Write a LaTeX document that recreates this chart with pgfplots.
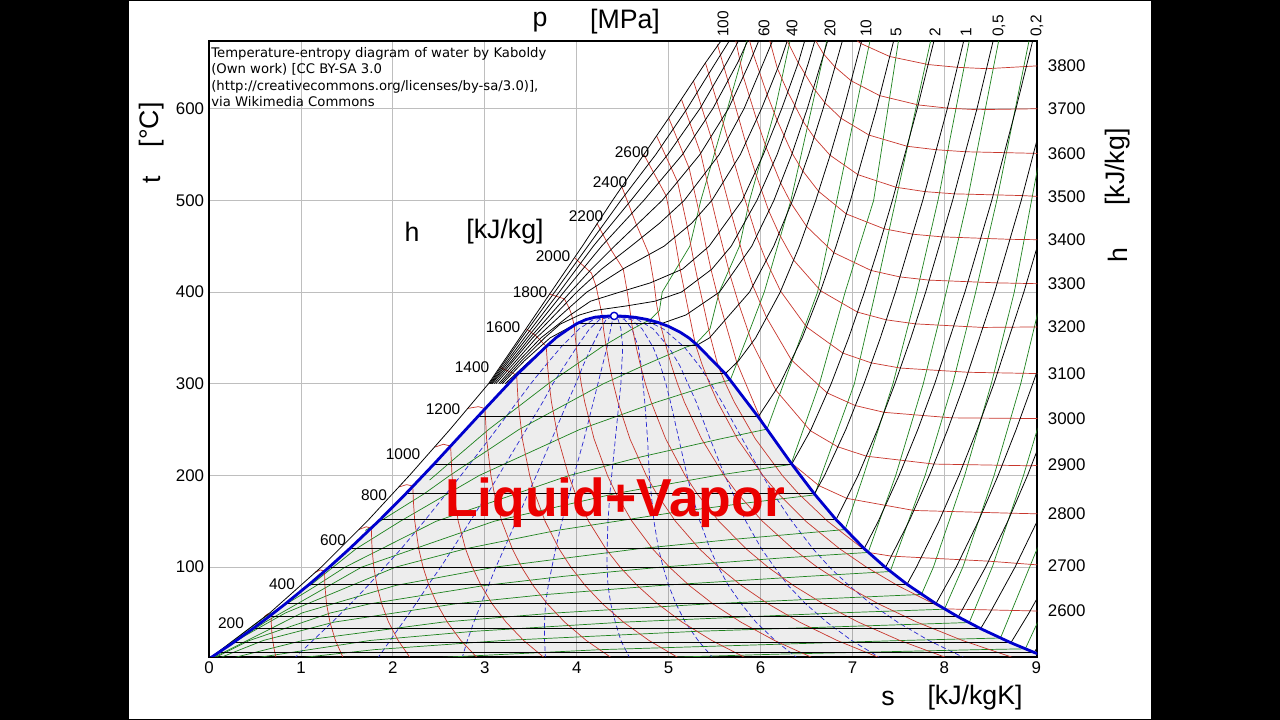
\documentclass[border=0pt]{standalone}
\usepackage{fontspec}
\setmainfont{Liberation Sans}
\newfontfamily\creditfont{DejaVu Sans}
\usepackage{pgfplots}
\pgfplotsset{compat=1.18}
\usepackage{pgfplotstable}
\definecolor{hred}{RGB}{200,55,45}
\definecolor{hgreen}{RGB}{30,130,30}
\definecolor{hblue}{RGB}{40,40,210}
\definecolor{domeblue}{RGB}{0,0,205}
\definecolor{gridgray}{RGB}{190,190,190}
\definecolor{lvred}{RGB}{235,0,0}

\pgfplotstableread{
s t
0 0.01
0.106 7.0
0.261 17.5
0.476 32.9
0.649 45.8
0.832 60.1
1.091 81.3
1.303 99.6
1.530 120.2
1.861 151.8
2.139 179.9
2.447 212.4
2.921 263.9
3.360 311.0
3.685 342.2
3.778 350.5
3.900 359.0
4.000 365.5
4.100 370.0
4.200 372.6
4.300 373.6
4.407 373.95
4.520 373.6
4.640 372.4
4.760 370.2
4.880 367.0
5.000 362.5
5.120 356.5
5.220 350.0
5.311 342.2
5.616 311.0
5.974 263.9
6.339 212.4
6.585 179.9
6.821 151.8
7.127 120.2
7.359 99.6
7.593 81.3
7.907 60.1
8.149 45.8
8.394 32.9
8.723 17.5
8.975 7.0
9.156 0.01
}\dome

\pgfplotsset{
  isobar/.style={black, line width=0.55pt},
  isenth/.style={hred, line width=0.5pt},
  isochor/.style={hgreen, line width=0.5pt},
  qual/.style={hblue, line width=0.5pt, dash pattern=on 3.5pt off 2pt},
}

\begin{document}
\begin{tikzpicture}[x=0.025cm,y=0.025cm]
\useasboundingbox (0,0) rectangle (1280,720);
\fill[black] (0,0) rectangle (1280,720);
\fill[white] (129,1) rectangle (1151,719);

\begin{axis}[
  at={(5.225cm,1.575cm)}, anchor=south west,
  scale only axis, width=20.7cm, height=15.4cm,
  xmin=0, xmax=9.01, ymin=2, ymax=674,
  xtick={0,1,...,9}, ytick={100,200,...,600},
  grid=major, major grid style={gridgray, line width=0.6pt},
  major tick length=0pt,
  axis line style={line width=1.5pt},
  tick label style={font=\fontsize{12}{14}\selectfont},
  /pgf/number format/assume math mode=true,
  every axis plot/.append style={line join=round},
]
% two-phase region
\addplot[fill=black, fill opacity=0.07, draw=none] table {\dome};

% quality lines
\addplot[qual] coordinates {(0.92,0.01)(1.13,20)(1.34,40)(1.54,60)(1.73,80)(1.91,100)(2.09,120)(2.34,150)(2.58,180)(2.74,200)(3.05,240)(3.35,280)(3.50,300)(3.66,320)(3.83,340)(4.03,360)(4.18,370)(4.407,373.95)};
\addplot[qual] coordinates {(1.83,0.01)(1.97,20)(2.11,40)(2.25,60)(2.38,80)(2.52,100)(2.65,120)(2.84,150)(3.03,180)(3.15,200)(3.39,240)(3.63,280)(3.74,300)(3.87,320)(4.00,340)(4.14,360)(4.25,370)(4.407,373.95)};
\addplot[qual] coordinates {(2.75,0.01)(2.81,20)(2.88,40)(2.96,60)(3.04,80)(3.12,100)(3.21,120)(3.34,150)(3.47,180)(3.56,200)(3.73,240)(3.90,280)(3.99,300)(4.07,320)(4.16,340)(4.26,360)(4.32,370)(4.407,373.95)};
\addplot[qual] coordinates {(3.66,0.01)(3.65,20)(3.65,40)(3.66,60)(3.69,80)(3.73,100)(3.77,120)(3.84,150)(3.92,180)(3.97,200)(4.08,240)(4.18,280)(4.23,300)(4.28,320)(4.33,340)(4.37,360)(4.39,370)(4.407,373.95)};
\addplot[qual] coordinates {(4.58,0.01)(4.48,20)(4.42,40)(4.37,60)(4.34,80)(4.33,100)(4.33,120)(4.34,150)(4.36,180)(4.38,200)(4.42,240)(4.46,280)(4.48,300)(4.49,320)(4.50,340)(4.48,360)(4.45,370)(4.407,373.95)};
\addplot[qual] coordinates {(5.49,0.01)(5.32,20)(5.18,40)(5.08,60)(5.00,80)(4.94,100)(4.89,120)(4.84,150)(4.81,180)(4.79,200)(4.77,240)(4.74,280)(4.72,300)(4.70,320)(4.67,340)(4.60,360)(4.52,370)(4.407,373.95)};
\addplot[qual] coordinates {(6.41,0.01)(6.16,20)(5.95,40)(5.79,60)(5.65,80)(5.54,100)(5.45,120)(5.34,150)(5.25,180)(5.20,200)(5.11,240)(5.02,280)(4.97,300)(4.91,320)(4.83,340)(4.71,360)(4.59,370)(4.407,373.95)};
\addplot[qual] coordinates {(7.32,0.01)(6.99,20)(6.72,40)(6.49,60)(6.30,80)(6.15,100)(6.01,120)(5.84,150)(5.70,180)(5.61,200)(5.45,240)(5.30,280)(5.21,300)(5.12,320)(5.00,340)(4.83,360)(4.66,370)(4.407,373.95)};
\addplot[qual] coordinates {(8.24,0.01)(7.83,20)(7.49,40)(7.20,60)(6.96,80)(6.75,100)(6.57,120)(6.34,150)(6.14,180)(6.02,200)(5.80,240)(5.58,280)(5.46,300)(5.33,320)(5.17,340)(4.94,360)(4.73,370)(4.407,373.95)};

% isochores
\addplot[isochor] coordinates {(4.44,0.01)(6.16,5)(8.38,10)(8.88,10.9)(9.07,52)};
\addplot[isochor] coordinates {(2.22,0.01)(4.26,10)(7.54,20)(8.61,22.7)(9.07,135)};
\addplot[isochor] coordinates {(0.89,0.01)(1.80,10)(3.20,20)(5.31,30)(8.27,39.6)(8.52,100)(8.86,200)(9.07,270)};
\addplot[isochor] coordinates {(0.44,0.01)(1.75,20)(2.88,30)(4.51,40)(6.83,50)(8.00,54.1)(8.20,100)(8.54,200)(8.83,300)(9.07,400)};
\addplot[isochor] coordinates {(0.22,0.01)(1.02,20)(2.54,40)(3.77,50)(5.45,60)(7.75,70.2)(7.88,100)(8.22,200)(8.51,300)(8.76,400)(9.07,565)};
\addplot[isochor] coordinates {(0.09,0.01)(0.59,20)(1.36,40)(2.68,60)(3.65,70)(4.91,80)(6.52,90)(7.41,95.2)(7.79,200)(8.09,300)(8.34,400)(8.57,500)(8.92,674)};
\addplot[isochor] coordinates {(0.04,0.01)(0.44,20)(1.32,50)(1.75,60)(3.00,80)(3.86,90)(4.92,100)(6.23,110)(7.17,116)(7.47,200)(7.77,300)(8.02,400)(8.25,500)(8.59,674)};
\addplot[isochor] coordinates {(0.02,0.01)(1.01,50)(2.03,80)(3.11,100)(4.67,120)(5.67,130)(6.92,141)(7.12,200)(7.44,300)(7.70,400)(7.93,500)(8.27,674)};
\addplot[isochor] coordinates {(0.0,0.01)(0.30,20)(0.83,50)(2.03,100)(2.79,120)(3.78,140)(5.08,160)(5.85,170)(6.59,178.8)(6.66,200)(7.02,300)(7.25,400)(7.47,500)(7.85,674)};
\addplot[isochor] coordinates {(0.0,0.01)(0.61,40)(1.66,100)(3.10,150)(4.41,180)(5.52,200)(6.33,212)(6.64,300)(6.92,400)(7.23,500)(7.50,674)};
\addplot[isochor] coordinates {(0.0,0.01)(0.60,45)(1.17,80)(1.48,100)(2.47,150)(3.92,200)(4.69,220)(5.57,240)(6.07,250.5)(6.25,300)(6.62,400)(6.83,500)(7.19,674)};
\addplot[isochor] coordinates {(1.10,80)(1.60,120)(2.08,150)(2.94,200)(4.03,250)(4.87,280)(5.50,300)(5.67,304)(5.85,350)(6.04,400)(6.33,500)(6.72,674)};
\addplot[isochor] coordinates {(1.70,140)(2.34,180)(2.62,200)(3.37,250)(4.29,300)(4.73,320)(5.19,340)(5.29,343)(5.45,360)(5.55,400)(5.77,450)(5.88,500)(6.16,600)(6.32,674)};
\addplot[isochor] coordinates {(2.40,195)(2.69,220)(3.04,250)(3.69,300)(4.27,340)(4.61,360)(4.80,370)(4.90,380)(4.93,400)(5.23,450)(5.35,500)(5.64,600)(5.85,674)};

% isenthalps
\addplot[isenth] coordinates {(0.732,0.01)(0.709,10)(0.693,20)(0.682,30)(0.676,40)(0.675,47.8)(0.64,49)(0.60,46)};
\addplot[isenth] coordinates {(1.464,0.01)(1.375,20)(1.315,40)(1.278,60)(1.260,80)(1.256,95.5)(1.21,97)(1.15,94)};
\addplot[isenth] coordinates {(2.196,0.01)(2.057,20)(1.953,40)(1.878,60)(1.826,80)(1.792,100)(1.773,120)(1.765,142.5)(1.71,144)(1.63,141)};
\addplot[isenth] coordinates {(2.929,0.01)(2.739,20)(2.592,40)(2.479,60)(2.392,80)(2.328,100)(2.281,120)(2.238,150)(2.224,170)(2.216,188.3)(2.15,190)(2.07,187.5)};
\addplot[isenth] coordinates {(3.661,0.01)(3.422,20)(3.231,40)(3.079,60)(2.959,80)(2.864,100)(2.790,120)(2.711,150)(2.662,180)(2.643,200)(2.628,232)(2.55,234)(2.46,231)};
\addplot[isenth] coordinates {(4.393,0.01)(4.104,20)(3.869,40)(3.679,60)(3.525,80)(3.400,100)(3.299,120)(3.184,150)(3.104,180)(3.066,200)(3.019,240)(3.002,272.9)(2.93,275)(2.81,273)};
\addplot[isenth] coordinates {(5.125,0.01)(4.786,20)(4.508,40)(4.280,60)(4.091,80)(3.936,100)(3.807,120)(3.656,150)(3.545,180)(3.488,200)(3.408,240)(3.363,280)(3.346,309.5)(3.25,314)(3.16,318)};
\addplot[isenth] coordinates {(5.857,0.01)(5.469,20)(5.147,40)(4.880,60)(4.658,80)(4.472,100)(4.316,120)(4.129,150)(3.986,180)(3.911,200)(3.798,240)(3.725,280)(3.700,300)(3.682,320)(3.668,340.7)(3.56,352)(3.45,360)};
\addplot[isenth] coordinates {(6.590,0.01)(6.151,20)(5.785,40)(5.480,60)(5.224,80)(5.008,100)(4.825,120)(4.601,150)(4.428,180)(4.334,200)(4.188,240)(4.087,280)(4.049,300)(4.019,320)(3.995,340)(3.975,360)(3.974,363)(3.944,375.3)(3.917,382.6)(3.866,392.5)(3.70,398)};
\addplot[isenth] coordinates {(7.322,0.01)(6.833,20)(6.424,40)(6.081,60)(5.790,80)(5.544,100)(5.334,120)(5.074,150)(4.869,180)(4.756,200)(4.578,240)(4.448,280)(4.398,300)(4.356,320)(4.321,340)(4.291,360)(4.281,370)(4.28,372.2)(4.268,379)(4.246,389)(4.211,406)(4.160,420.6)(3.98,437)};
\addplot[isenth] coordinates {(8.054,0.01)(7.515,20)(7.063,40)(6.681,60)(6.357,80)(6.080,100)(5.842,120)(5.547,150)(5.310,180)(5.179,200)(4.967,240)(4.810,280)(4.747,300)(4.693,320)(4.647,340)(4.607,360)(4.592,370)(4.59,372.1)(4.575,383)(4.548,401)(4.506,425)(4.374,446)(4.22,475)};
\addplot[isenth] coordinates {(8.786,0.01)(8.197,20)(7.701,40)(7.281,60)(6.923,80)(6.616,100)(6.351,120)(6.020,150)(5.752,180)(5.602,200)(5.357,240)(5.171,280)(5.096,300)(5.030,320)(4.974,340)(4.923,360)(4.91,365.5)(4.87,386)(4.84,410)(4.787,441)(4.643,475)(4.49,515)};
\addplot[isenth] coordinates {(9.07,52)(8.197,54)(7.99,54.5)(7.882,60)(7.489,80)(7.152,100)(6.860,120)(6.492,150)(6.193,180)(6.025,200)(5.747,240)(5.533,280)(5.445,300)(5.367,320)(5.300,340)(5.29,343)(5.221,377)(5.126,424)(5.063,461)(4.972,505)(4.73,550)};
\addplot[isenth] coordinates {(9.07,102)(8.48,106.5)(7.422,112)(7.17,116)(7.114,120)(6.729,150)(6.414,180)(6.236,200)(5.942,240)(5.714,280)(5.619,300)(5.536,320)(5.454,351)(5.373,388)(5.317,413)(5.271,435)(5.197,474)(5.097,520)(4.87,570)};
\addplot[isenth] coordinates {(9.07,158)(8.727,158.8)(7.667,161.8)(6.937,175)(6.634,188.9)(6.342,213)(6.137,240)(6.05,253)(5.984,265.5)(5.742,323)(5.609,369)(5.527,398)(5.462,424)(5.412,447)(5.331,487)(5.223,535)(5.0,590)};
\addplot[isenth] coordinates {(9.07,211.6)(8.945,210.5)(7.885,212.4)(7.150,221)(6.840,231.2)(6.541,248.8)(6.166,293)(5.907,344.7)(5.764,386.6)(5.672,417)(5.549,465)(5.466,499.6)(5.350,550.6)(5.14,610)};
\addplot[isenth] coordinates {(9.07,262)(8.081,262.8)(7.344,268.8)(7.030,276.2)(6.724,290)(6.335,325.9)(6.063,372.5)(5.917,406.7)(5.816,437.4)(5.685,484.3)(5.591,519.7)(5.459,569.4)(5.27,630)};
\addplot[isenth] coordinates {(9.07,311)(8.258,312.5)(7.521,317.1)(7.206,322.7)(6.895,333.4)(6.499,362)(6.218,400.9)(6.060,434.1)(5.956,460.7)(5.818,504.8)(5.717,540)(5.580,589)(5.40,650)};
\addplot[isenth] coordinates {(9.07,362)(8.419,361.4)(7.684,365.3)(7.367,369.7)(7.054,378.1)(6.653,401.4)(6.359,434.9)(6.200,463.8)(6.089,488.5)(5.942,530.6)(5.838,562.9)(5.700,611.5)(5.53,670)};
\addplot[isenth] coordinates {(9.07,409)(8.574,410)(7.834,413)(7.516,416.5)(7.203,423.5)(6.797,442.9)(6.499,471.7)(6.334,496.5)(6.218,519)(6.063,557.3)(5.956,588.3)(5.812,635)(5.73,674)};
\addplot[isenth] coordinates {(9.07,457)(8.713,457.5)(7.972,460.2)(7.654,463.1)(7.343,469)(6.932,485.2)(6.631,509.8)(6.460,532)(6.343,551.3)(6.181,587)(6.071,615.4)(5.921,659.5)(5.88,674)};
\addplot[isenth] coordinates {(9.07,504)(8.850,505.2)(8.108,507.1)(7.790,509.5)(7.472,514.3)(7.058,528.1)(6.756,549.2)(6.582,568.7)(6.461,586.3)(6.296,618.2)(6.182,644)(6.10,674)};
\addplot[isenth] coordinates {(9.07,551)(8.972,551.3)(8.230,553)(7.912,555.2)(7.593,559)(7.179,571.2)(6.874,589.6)(6.698,606.6)(6.574,622.7)(6.407,650.5)(6.29,674)};
\addplot[isenth] coordinates {(9.07,600)(8.352,598.9)(8.033,600.6)(7.714,604.1)(7.296,614.2)(6.985,630.4)(6.807,645.7)(6.683,659.9)(6.60,674)};
\addplot[isenth] coordinates {(9.07,647)(8.460,643.6)(8.141,645.1)(7.824,648.1)(7.404,656.9)(7.092,671)(7.05,674)};

% isobars: two-phase parts
\addplot[isobar] coordinates {(4.000,365.8)(4.927,365.8)};
\addplot[isobar] coordinates {(3.685,342.2)(5.311,342.2)};
\addplot[isobar] coordinates {(3.360,311.0)(5.616,311.0)};
\addplot[isobar] coordinates {(2.921,263.9)(5.974,263.9)};
\addplot[isobar] coordinates {(2.447,212.4)(6.339,212.4)};
\addplot[isobar] coordinates {(2.139,179.9)(6.585,179.9)};
\addplot[isobar] coordinates {(1.861,151.8)(6.821,151.8)};
\addplot[isobar] coordinates {(1.530,120.2)(7.127,120.2)};
\addplot[isobar] coordinates {(1.303,99.6)(7.359,99.6)};
\addplot[isobar] coordinates {(1.091,81.3)(7.593,81.3)};
\addplot[isobar] coordinates {(0.832,60.1)(7.907,60.1)};
\addplot[isobar] coordinates {(0.649,45.8)(8.149,45.8)};
\addplot[isobar] coordinates {(0.476,32.9)(8.394,32.9)};
\addplot[isobar] coordinates {(0.261,17.5)(8.723,17.5)};
\addplot[isobar] coordinates {(0.106,7.0)(8.975,7.0)};
% isobars: liquid parts near saturation
\addplot[isobar] coordinates {(3.19,300)(3.43,325)(3.71,350)(4.000,365.8)};
\addplot[isobar] coordinates {(3.22,300)(3.49,325)(3.685,342.2)};
\addplot[isobar] coordinates {(3.24,300)(3.36,311)};
% isobars: vapour parts
\addplot[isobar] coordinates {(8.975,7)(9.07,21)};
\addplot[isobar] coordinates {(8.723,17.5)(8.92,50)(9.07,77)};
\addplot[isobar] coordinates {(8.394,32.9)(8.495,50)(8.768,100)(9.009,150)(9.07,165)};
\addplot[isobar] coordinates {(8.149,45.8)(8.175,50)(8.448,100)(8.689,150)(8.904,200)(9.07,243)};
\addplot[isobar] coordinates {(7.907,60.1)(8.128,100)(8.369,150)(8.584,200)(8.780,250)(8.961,300)(9.07,331)};
\addplot[isobar] coordinates {(7.593,81.3)(7.695,100)(7.940,150)(8.158,200)(8.356,250)(8.538,300)(8.864,400)(9.07,470)};
\addplot[isobar] coordinates {(7.359,99.6)(7.615,150)(7.836,200)(8.035,250)(8.217,300)(8.545,400)(8.836,500)(9.07,590)};
\addplot[isobar] coordinates {(7.127,120.2)(7.280,150)(7.507,200)(7.710,250)(7.894,300)(8.223,400)(8.515,500)(8.778,600)(8.96,674)};
\addplot[isobar] coordinates {(6.821,151.8)(7.061,200)(7.272,250)(7.461,300)(7.635,350)(7.796,400)(8.089,500)(8.354,600)(8.53,674)};
\addplot[isobar] coordinates {(6.585,179.9)(6.696,200)(6.927,250)(7.125,300)(7.303,350)(7.467,400)(7.764,500)(8.031,600)(8.21,674)};
\addplot[isobar] coordinates {(6.339,212.4)(6.548,250)(6.768,300)(6.958,350)(7.129,400)(7.287,450)(7.434,500)(7.704,600)(7.886,674)};
\addplot[isobar] coordinates {(5.974,263.9)(6.211,300)(6.452,350)(6.648,400)(6.821,450)(6.978,500)(7.261,600)(7.448,674)};
\addplot[isobar] coordinates {(5.616,311)(5.760,325)(5.946,350)(6.214,400)(6.422,450)(6.600,500)(6.759,550)(6.905,600)(7.10,674)};
\addplot[isobar] coordinates {(5.311,342.2)(5.444,350)(5.88,400)(6.143,450)(6.348,500)(6.523,550)(6.680,600)(6.89,674)};
\addplot[isobar] coordinates {(4.927,365.8)(5.188,375)(5.553,400)(5.904,450)(6.145,500)(6.339,550)(6.508,600)(6.73,674)};
% supercritical isobars
\addplot[isobar] coordinates {(3.17,300)(3.40,325)(3.65,350)(3.82,365)(4.03,375)(4.20,380)(4.55,385)(4.85,390)(5.14,400)(5.47,425)(5.68,450)(5.96,500)(6.18,550)(6.36,600)(6.52,650)(6.59,674)};
\addplot[isobar] coordinates {(3.15,300)(3.37,325)(3.61,350)(3.93,375)(4.15,390)(4.47,400)(4.80,410)(5.15,425)(5.44,450)(5.80,500)(6.03,550)(6.23,600)(6.41,650)(6.48,674)};
\addplot[isobar] coordinates {(3.12,300)(3.34,325)(3.56,350)(3.83,375)(4.11,400)(4.50,425)(4.95,450)(5.25,475)(5.47,500)(5.78,550)(6.01,600)(6.21,650)(6.29,674)};
\addplot[isobar] coordinates {(3.10,300)(3.31,325)(3.52,350)(3.76,375)(4.00,400)(4.27,425)(4.59,450)(4.90,475)(5.17,500)(5.55,550)(5.82,600)(6.03,650)(6.13,674)};
\addplot[isobar] coordinates {(3.08,300)(3.29,325)(3.49,350)(3.71,375)(3.93,400)(4.16,425)(4.41,450)(4.93,500)(5.34,550)(5.65,600)(5.88,650)(5.98,674)};
\addplot[isobar] coordinates {(3.07,300)(3.46,350)(3.86,400)(4.27,450)(4.73,500)(5.15,550)(5.48,600)(5.75,650)(5.86,674)};
\addplot[isobar] coordinates {(3.06,300)(3.43,350)(3.81,400)(4.18,450)(4.59,500)(4.99,550)(5.34,600)(5.63,650)(5.76,674)};
\addplot[isobar] coordinates {(3.05,300)(3.40,350)(3.76,400)(4.12,450)(4.48,500)(4.86,550)(5.20,600)(5.51,650)(5.66,674)};
\addplot[isobar] coordinates {(0,0.01)(0.66,50)(1.22,100)(1.72,150)(2.18,200)(2.62,250)(3.04,300)(3.38,350)(3.72,400)(4.06,450)(4.39,500)(4.73,550)(5.07,600)(5.40,650)(5.57,674)};

% saturation curve
\addplot[domeblue, line width=2pt] table {\dome};
\addplot[domeblue, only marks, mark=*, mark size=2.6pt, mark options={fill=white, draw=domeblue, line width=1pt}] coordinates {(4.407,373.95)};
\end{axis}

% right-hand enthalpy scale
\begin{axis}[
  at={(5.225cm,1.575cm)}, anchor=south west,
  scale only axis, width=20.7cm, height=15.4cm,
  xmin=0, xmax=9.01, ymin=2, ymax=674,
  axis x line=none, axis y line*=right,
  y axis line style={draw=none},
  major tick length=0pt,
  ytick={52,102,158,211.6,262,311,362,409,457,504,551,600,647},
  yticklabels={2600,2700,2800,2900,3000,3100,3200,3300,3400,3500,3600,3700,3800},
  yticklabel style={font=\fontsize{12}{14}\selectfont, xshift=4pt},
]
\addplot[draw=none] coordinates {(1,100)};
\end{axis}

% axis titles
\begin{scope}[every node/.style={inner sep=0pt, font=\fontsize{19}{22}\selectfont}]
\node at (540,698) {p};
\node at (625,698) {[MPa]};
\node[rotate=90] at (152,540) {t};
\node[rotate=90] at (152,595) {[°C]};
\node[rotate=90] at (1118,553) {[kJ/kg]};
\node[rotate=90] at (1118,465) {h};
\node at (888,22) {s};
\node at (975,22) {[kJ/kgK]};
\node at (412,488) {h};
\node at (505,488) {[kJ/kg]};
\end{scope}

% pressure labels
\begin{scope}[every node/.style={inner sep=0pt, rotate=90, anchor=west, font=\fontsize{11}{13}\selectfont}]
\node at (723,683) {100};
\node at (764,683) {60};
\node at (792,683) {40};
\node at (830,683) {20};
\node at (866,683) {10};
\node at (896,683) {5};
\node at (935,683) {2};
\node at (966,683) {1};
\node at (999,683) {0,5};
\node at (1037,683) {0,2};
\end{scope}

% enthalpy labels along the left
\begin{scope}[every node/.style={inner sep=0pt, font=\fontsize{11}{13}\selectfont}]
\node at (231,97) {200};
\node at (282,136) {400};
\node at (333,180) {600};
\node at (374,225) {800};
\node at (403,266) {1000};
\node at (443,311) {1200};
\node at (472,353) {1400};
\node at (503,393) {1600};
\node at (530,428) {1800};
\node at (553,464) {2000};
\node at (586,504) {2200};
\node at (610,538) {2400};
\node at (632,568) {2600};
\end{scope}

\node[anchor=north west, inner sep=0pt, align=left, font=\creditfont\fontsize{9.4}{11.7}\selectfont] at (211,673)
{Temperature-entropy diagram of water by Kaboldy\\(Own work) [CC BY-SA 3.0\\(http://creativecommons.org/licenses/by-sa/3.0)],\\via Wikimedia Commons};

\node[inner sep=0pt, text=lvred, font=\fontsize{38}{44}\selectfont\bfseries] at (615,217) {Liquid+Vapor};
\end{tikzpicture}
\end{document}
